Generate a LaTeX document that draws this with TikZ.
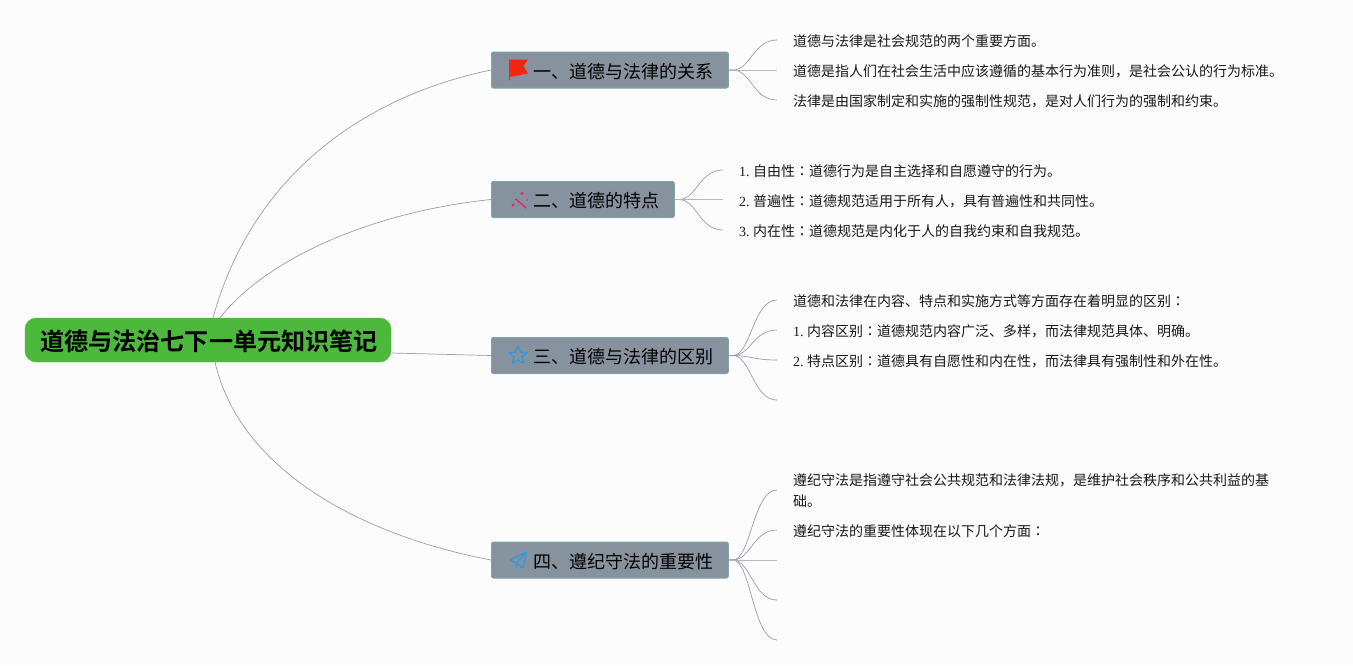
\documentclass[tikz,border=0pt]{standalone}
\usepackage{fontspec}
\setmainfont{Liberation Serif}
\newfontfamily\cjk{Noto Sans CJK SC}
\newfontfamily\cjkj{Noto Sans CJK JP}
\newfontfamily\cjkb{Noto Sans CJK SC Bold}
\definecolor{bgc}{HTML}{FCFCFD}
\definecolor{rootc}{HTML}{4CB83C}
\definecolor{branchc}{HTML}{87929F}
\definecolor{branchb}{HTML}{7DA5A6}
\definecolor{linec}{HTML}{9A9EB4}
\definecolor{linel}{HTML}{B4B7C4}
\definecolor{flagc}{HTML}{F5260F}
\definecolor{wandc}{HTML}{E0266E}
\definecolor{iconb}{HTML}{3498DB}
\tikzset{
  rootbox/.style={draw=rootc!90!white,fill=rootc,rounded corners=11pt,minimum width=366pt,minimum height=44pt,inner sep=0pt,font=\cjkb\fontsize{24.1}{28}\selectfont,text=black},
  branchbox/.style={draw=branchb,fill=branchc,line width=1pt,rounded corners=2pt,minimum height=36pt,inner sep=0pt,anchor=west,font=\cjk\fontsize{18}{22}\selectfont,text=black},
  leafnode/.style={anchor=west,inner ysep=0pt,inner xsep=16pt,align=left,text=black!90,font=\cjk\fontsize{14}{21}\selectfont\frenchspacing},
  conn/.style={draw=linec,line width=0.7pt},
  connl/.style={draw=linel,line width=1pt},
}
\newcommand{\lat}[1]{{\rmfamily #1}}
\newcommand{\cln}{{\cjkj ：}}
\newcommand{\btext}[1]{\hspace*{42pt}\raisebox{-1.5pt}[\height][\depth]{#1}\hspace*{14.8pt}}
\begin{document}
\begin{tikzpicture}[x=1pt,y=-1pt]
\useasboundingbox (0,0) rectangle (1353,665);
\fill[bgc] (0,0) rectangle (1353,665);
\node[rootbox] (root) at (208,340) {\hspace*{2pt}\raisebox{-1.2pt}[\height][\depth]{道德与法治七下一单元知识笔记}};
\node[branchbox] (b1) at (491,70) {\btext{一、道德与法律的关系}};
\node[branchbox] (b2) at (491,199.5) {\btext{二、道德的特点}};
\node[branchbox] (b3) at (491,355.5) {\btext{三、道德与法律的区别}};
\node[branchbox] (b4) at (491,560) {\btext{四、遵纪守法的重要性}};
% leaves
\node[leafnode] (l11) at (777,41) {道德与法律是社会规范的两个重要方面。};
\node[leafnode] (l12) at (777,71) {道德是指人们在社会生活中应该遵循的基本行为准则，是社会公认的行为标准。};
\node[leafnode] (l13) at (777,101) {法律是由国家制定和实施的强制性规范，是对人们行为的强制和约束。};
\node[leafnode] (l21) at (723,171) {\lat{1. }自由性\cln 道德行为是自主选择和自愿遵守的行为。};
\node[leafnode] (l22) at (723,201) {\lat{2. }普遍性\cln 道德规范适用于所有人，具有普遍性和共同性。};
\node[leafnode] (l23) at (723,231) {\lat{3. }内在性\cln 道德规范是内化于人的自我约束和自我规范。};
\node[leafnode] (l31) at (777,301) {道德和法律在内容、特点和实施方式等方面存在着明显的区别\cln};
\node[leafnode] (l32) at (777,331) {\lat{1. }内容区别\cln 道德规范内容广泛、多样，而法律规范具体、明确。};
\node[leafnode] (l33) at (777,361) {\lat{2. }特点区别\cln 道德具有自愿性和内在性，而法律具有强制性和外在性。};
\coordinate (l34) at (777,400);
\node[leafnode] (l41) at (777,491) {遵纪守法是指遵守社会公共规范和法律法规，是维护社会秩序和公共利益的基\\础。};
\node[leafnode] (l42) at (777,531) {遵纪守法的重要性体现在以下几个方面\cln};
\coordinate (l43) at (777,560);
\coordinate (l44) at (777,600);
\coordinate (l45) at (777,640);
% root connectors
\draw[conn] ([xshift=5pt]root.north) .. controls (254,170) and (370,95) .. (b1.west);
\draw[conn] ([xshift=12pt]root.north) .. controls (265,260) and (370,212) .. (b2.west);
\draw[conn] ([yshift=-13pt]root.east) -- (b3.west);
\draw[conn] ([xshift=7pt]root.south) .. controls (240,470) and (360,535) .. (b4.west);
% leaf connectors
\foreach \b/\l/\dy in {b1/l11/1,b1/l13/1,b2/l21/1,b2/l23/1,b3/l31/1,b3/l32/1,b3/l33/1,b3/l34/0,b4/l41/1,b4/l42/1,b4/l44/0,b4/l45/0}{
  \draw[conn] (\b.east) -- ++(4,0) .. controls ++(18,0) and ([xshift=-24pt,yshift=\dy pt]\l.west) .. ([yshift=\dy pt]\l.west);
}
\draw[connl] (b1.east) -- ([yshift=1pt]l12.west);
\draw[connl] (b2.east) -- ([yshift=1.5pt]l22.west);
\draw[connl] (b4.east) -- (l43);
% icons
\fill[flagc] (509,59.5) -- (528,59.5) -- (523.5,66) -- (528,73.5) -- (510,77) -- (510,80) -- (509,80) -- cycle;
\draw[wandc,line width=1.5pt] (517,200) -- (526,208);
\fill[wandc] (513,205) circle (1.7pt) (516,199.5) circle (1.2pt) (522,193.5) circle (1.6pt) (527,200) circle (0.9pt);
\draw[iconb,line width=1.3pt,line join=round] (518,346) -- (520.6,352) -- (527,352.6) -- (522.2,356.8) -- (523.6,363.4) -- (518,360) -- (512.4,363.4) -- (513.8,356.8) -- (509,352.6) -- (515.4,352) -- cycle;
\draw[iconb,line width=1.3pt,line join=round] (526.5,552) -- (510.5,560) -- (516.5,563) -- (526.5,552) -- (523,568) -- (516.5,563) -- (516.5,567.5);
\end{tikzpicture}
\end{document}
